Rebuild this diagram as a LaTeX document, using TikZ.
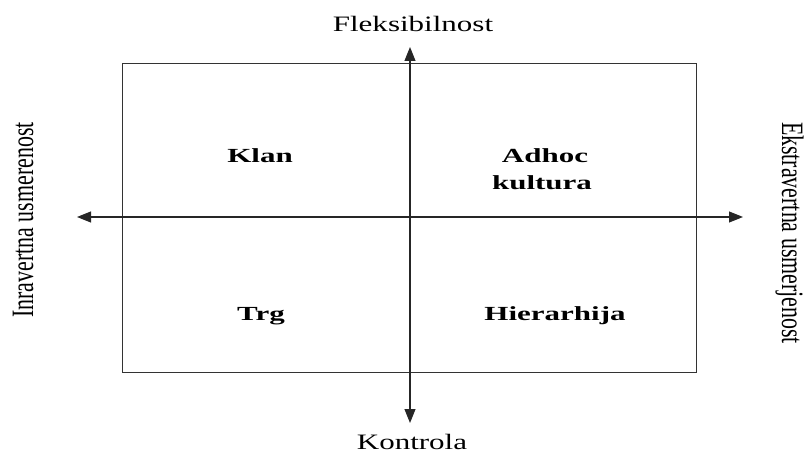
\documentclass[tikz,border=0pt]{standalone}
\usepackage{fontspec}
\setmainfont{Liberation Serif}
\usetikzlibrary{arrows.meta}
\newcommand{\hreg}[1]{\scalebox{1.41}[1]{\fontsize{22}{26}\selectfont #1}}
\newcommand{\hbld}[1]{\scalebox{1.55}[1]{\fontsize{20}{24}\selectfont\bfseries #1}}
\newcommand{\vreg}[1]{\scalebox{1}[1.42]{\fontsize{21.9}{26}\selectfont #1}}
\tikzset{
  axis/.style={line width=1.1pt, draw=black!85, {Triangle[length=14pt,width=11pt]}-{Triangle[length=14pt,width=11pt]}},
  frame/.style={line width=1.3pt, draw=black!80},
  lbl/.style={inner sep=0pt, anchor=base}
}
\begin{document}
\begin{tikzpicture}[x=1pt,y=-1pt]
\useasboundingbox (0,0) rectangle (809,454);
\node[frame, inner sep=0pt, minimum width=574pt, minimum height=309pt, anchor=north west] (box) at (122,63) {};
\coordinate (top) at (410,47);
\coordinate (bot) at (410,423);
\coordinate (lft) at (77,217);
\coordinate (rgt) at (743,217);
\draw[axis] (lft) -- (rgt);
\draw[axis] (bot) -- (top);
\node[lbl] (flex) at (413,32) {\hreg{Fleksibilnost}};
\node[lbl] (kon) at (412,449) {\hreg{Kontrola}};
\node[lbl, rotate=90] (inr) at (33,220) {\vreg{Inravertna usmerenost}};
\node[lbl, rotate=-90] (eks) at (782,233) {\vreg{Ekstravertna usmerjenost}};
\node[lbl] (klan) at (260,163) {\hbld{Klan}};
\node[lbl] (adhoc) at (545,163) {\hbld{Adhoc}};
\node[lbl] (kult) at (542,190) {\hbld{kultura}};
\node[lbl] (trg) at (261,321) {\hbld{Trg}};
\node[lbl] (hier) at (555,321) {\hbld{Hierarhija}};
\end{tikzpicture}
\end{document}
